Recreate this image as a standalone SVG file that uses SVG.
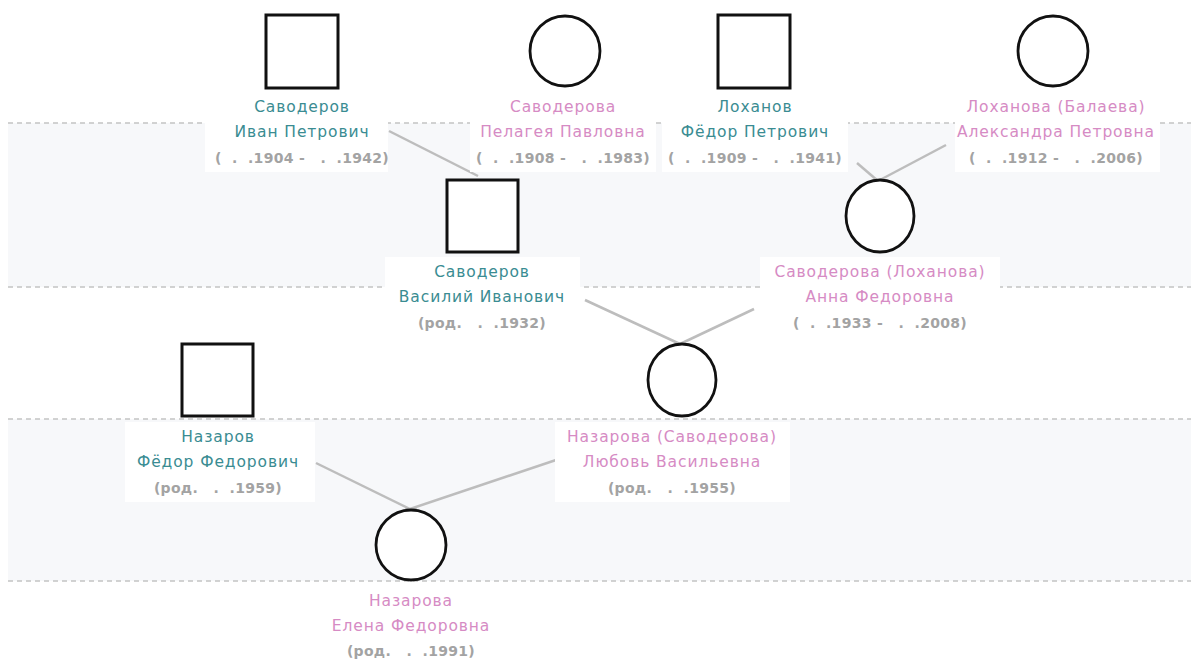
<svg xmlns="http://www.w3.org/2000/svg" width="1191" height="661" viewBox="0 0 1191 661">
<style>
.band{fill:#f7f8fa}
.dash{stroke:#c4c4c4;stroke-width:1.3;stroke-dasharray:5 4;fill:none}
.lbl{fill:#ffffff}
.sq{fill:#ffffff;stroke:#111;stroke-width:3}
.ci{fill:#ffffff;stroke:#111;stroke-width:2.8}
text{font-family:"DejaVu Sans","Liberation Sans",sans-serif;font-size:15.5px;letter-spacing:0.9px;text-anchor:middle;white-space:pre}
.m{fill:#3a8c92}
.f{fill:#d68bc4}
.d{fill:#a3a3a3;font-weight:bold;font-size:14px;letter-spacing:0.3px}
.con line{stroke:#bdbdbd;stroke-width:2.5}
</style>
<rect x="0" y="0" width="1191" height="661" fill="#ffffff"/>
<rect class="band" x="8" y="123" width="1183" height="164"/>
<rect class="band" x="8" y="419" width="1183" height="162"/>
<line class="dash" x1="8" y1="123" x2="1191" y2="123"/>
<line class="dash" x1="8" y1="287" x2="1191" y2="287"/>
<line class="dash" x1="8" y1="419" x2="1191" y2="419"/>
<line class="dash" x1="8" y1="581" x2="1191" y2="581"/>

<g id="connectors" class="con">
<line x1="389" y1="131" x2="478" y2="176"/>
<line x1="857" y1="163" x2="878" y2="181"/>
<line x1="946" y1="145" x2="878" y2="181"/>
<line x1="585" y1="300" x2="680" y2="344"/>
<line x1="754" y1="309" x2="680" y2="344"/>
<line x1="316" y1="463" x2="410" y2="509"/>
<line x1="556" y1="460" x2="410" y2="509"/>
</g>

<g id="n1">
<rect class="lbl" x="205" y="92" width="183" height="80"/>
<rect class="sq" x="266" y="15" width="72" height="73"/>
<text class="m" x="302" y="112">Саводеров</text>
<text class="m" x="302" y="137">Иван Петрович</text>
<text class="d" x="302" y="163">(  .  .1904 -   .  .1942)</text>
</g>

<g id="n2">
<rect class="lbl" x="470" y="92" width="186" height="80"/>
<circle class="ci" cx="565" cy="51" r="35"/>
<text class="f" x="563" y="112">Саводерова</text>
<text class="f" x="563" y="137">Пелагея Павловна</text>
<text class="d" x="563" y="163">(  .  .1908 -   .  .1983)</text>
</g>

<g id="n3">
<rect class="lbl" x="662" y="92" width="186" height="80"/>
<rect class="sq" x="718" y="15" width="72" height="73"/>
<text class="m" x="755" y="112">Лоханов</text>
<text class="m" x="755" y="137">Фёдор Петрович</text>
<text class="d" x="755" y="163">(  .  .1909 -   .  .1941)</text>
</g>

<g id="n4">
<rect class="lbl" x="955" y="92" width="205" height="80"/>
<circle class="ci" cx="1053" cy="51" r="35"/>
<text class="f" x="1056" y="112">Лоханова (Балаева)</text>
<text class="f" x="1056" y="137">Александра Петровна</text>
<text class="d" x="1056" y="163">(  .  .1912 -   .  .2006)</text>
</g>

<g id="n5">
<rect class="lbl" x="385" y="257" width="195" height="80"/>
<rect class="sq" x="447" y="180" width="71" height="72"/>
<text class="m" x="482" y="277">Саводеров</text>
<text class="m" x="482" y="302">Василий Иванович</text>
<text class="d" x="482" y="328">(род.   .  .1932)</text>
</g>

<g id="n6">
<rect class="lbl" x="760" y="257" width="240" height="80"/>
<ellipse class="ci" cx="880" cy="216" rx="34" ry="36"/>
<text class="f" x="880" y="277">Саводерова (Лоханова)</text>
<text class="f" x="880" y="302">Анна Федоровна</text>
<text class="d" x="880" y="328">(  .  .1933 -   .  .2008)</text>
</g>

<g id="n7">
<rect class="lbl" x="125" y="422" width="190" height="80"/>
<rect class="sq" x="182" y="344" width="71" height="72"/>
<text class="m" x="218" y="442">Назаров</text>
<text class="m" x="218" y="467">Фёдор Федорович</text>
<text class="d" x="218" y="493">(род.   .  .1959)</text>
</g>

<g id="n8">
<rect class="lbl" x="555" y="422" width="235" height="80"/>
<ellipse class="ci" cx="682" cy="380" rx="34" ry="36"/>
<text class="f" x="672" y="442">Назарова (Саводерова)</text>
<text class="f" x="672" y="467">Любовь Васильевна</text>
<text class="d" x="672" y="493">(род.   .  .1955)</text>
</g>

<g id="n9">
<rect class="lbl" x="318" y="584" width="185" height="77"/>
<circle class="ci" cx="411" cy="545" r="35"/>
<text class="f" x="411" y="606">Назарова</text>
<text class="f" x="411" y="631">Елена Федоровна</text>
<text class="d" x="411" y="656">(род.   .  .1991)</text>
</g>
</svg>
